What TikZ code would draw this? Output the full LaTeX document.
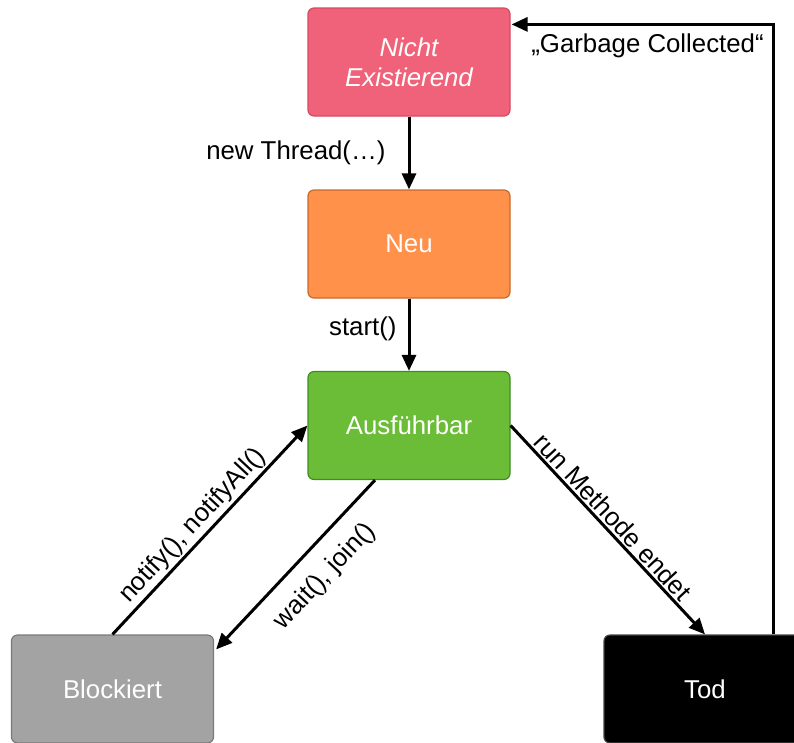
\documentclass[tikz,border=0pt]{standalone}
\usepackage{fontspec}
\setmainfont{Liberation Sans}
\usetikzlibrary{arrows.meta,calc}
\definecolor{nichtfill}{HTML}{F0627A}
\definecolor{nichtdraw}{HTML}{D64A62}
\definecolor{neufill}{HTML}{FF914A}
\definecolor{neudraw}{HTML}{C86A2C}
\definecolor{ausfill}{HTML}{6BBC37}
\definecolor{ausdraw}{HTML}{3F8D22}
\definecolor{blkfill}{HTML}{A3A3A3}
\definecolor{blkdraw}{HTML}{7A7A7A}
\definecolor{toddraw}{HTML}{444444}
\begin{document}
\begin{tikzpicture}[x=1pt,y=-1pt,
  state/.style={draw, line width=1.2pt, rounded corners=6pt, minimum width=202pt,
    minimum height=108pt, text=white, font=\fontsize{25.8}{30}\selectfont,
    align=center, inner sep=0pt},
  conn/.style={line width=3pt, -{Triangle[length=16pt,width=14pt]}},
  lbl/.style={font=\fontsize{25.8}{30}\selectfont, text=black, inner sep=2pt}]
\useasboundingbox (0,0) rectangle (794,742);

\node[state, fill=nichtfill, draw=nichtdraw, font=\fontsize{25.8}{30}\selectfont\itshape] (nicht) at (409,62) {Nicht\\Existierend};
\node[state, fill=neufill, draw=neudraw] (neu) at (409,244) {Neu};
\node[state, fill=ausfill, draw=ausdraw] (aus) at (409,425.5) {Ausführbar};
\node[state, fill=blkfill, draw=blkdraw] (blk) at (112.5,689) {Blockiert};
\node[state, fill=black, draw=toddraw] (tod) at (705,689) {Tod};

\draw[conn] (nicht) -- node[lbl, left=20pt]{new Thread(…)} (neu);
\draw[conn] (neu) -- node[lbl, pos=0.42, left=9pt]{start()} (aus);
\draw[conn] (blk.north) -- node[lbl, sloped, above, pos=0.47]{notify(), notifyAll()} (aus.west);
\draw[conn] ($(aus.south)+(-34,0)$) -- node[lbl, sloped, below=14pt, pos=0.45]{wait(), join()} ($(blk.north east)+(2,15)$);
\draw[conn] (aus.east) -- node[lbl, sloped, above, pos=0.48]{run Methode endet} (tod.north);
\draw[conn] ($(tod.north)+(68,0)$) |- node[lbl, pos=0.74, below=6pt]{„Garbage Collected“} ($(nicht.north east)+(1,17)$);
\end{tikzpicture}
\end{document}
